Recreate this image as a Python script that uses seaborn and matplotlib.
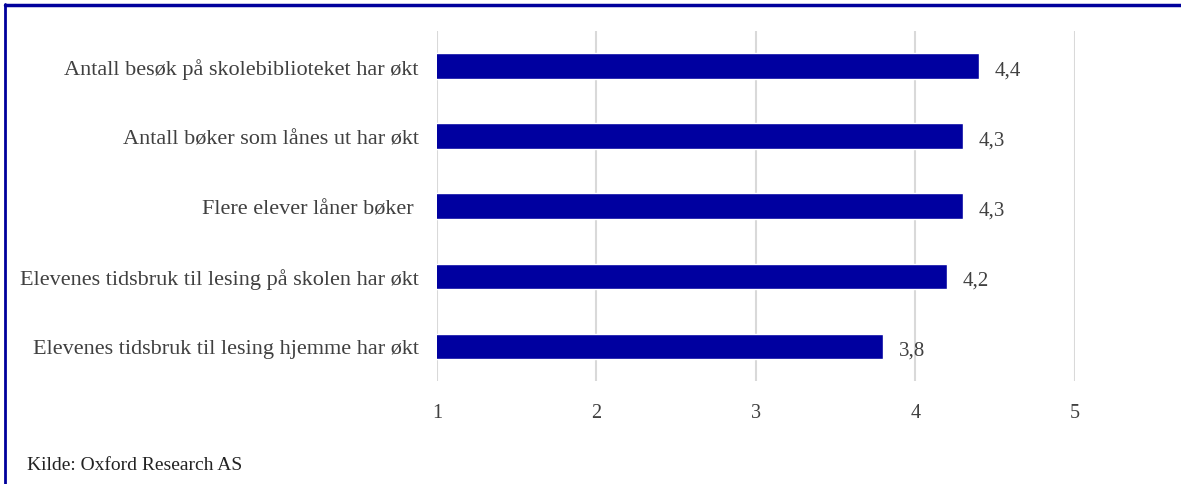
import matplotlib
matplotlib.use("Agg")
import matplotlib.pyplot as plt
import seaborn as sns
import pandas as pd

kategorier = [
    "Antall besøk på skolebiblioteket har økt",
    "Antall bøker som lånes ut har økt",
    "Flere elever låner bøker ",
    "Elevenes tidsbruk til lesing på skolen har økt",
    "Elevenes tidsbruk til lesing hjemme har økt",
]
verdier = [4.4, 4.3, 4.3, 4.2, 3.8]
xticks = [1, 2, 3, 4, 5]

df = pd.DataFrame({"kategori": kategorier, "verdi": verdier})

sns.set_style("white")
plt.rcParams["font.family"] = ["Liberation Serif", "DejaVu Serif"]
tekstfarge = "#404040"
blaa = "#0000A0"

fig = plt.figure(figsize=(11.81, 4.85), dpi=100)
ax = fig.add_axes([0.370, 0.212, 0.540, 0.722])

sns.barplot(data=df, y="kategori", x="verdi", orient="h", color=blaa,
            width=0.36, saturation=1, ax=ax)

ax.set_xlim(1, 5)
ax.set_ylim(4.5, -0.5)
ax.set_xticks(xticks)
ax.set_xticklabels([str(t) for t in xticks])
ax.grid(axis="x", color="#d9d9d9", linewidth=1.5)
ax.set_axisbelow(True)
for s in ax.spines.values():
    s.set_visible(False)
ax.tick_params(axis="both", length=0, colors=tekstfarge)
ax.tick_params(axis="y", pad=13, labelsize=16)
ax.tick_params(axis="x", pad=16, labelsize=14.5)
ax.set_xlabel("")
ax.set_ylabel("")

for i, v in enumerate(verdier):
    ax.annotate(f"{v:.1f}".replace(".", ","), (v, i), xytext=(11, -3),
                textcoords="offset points", va="center", ha="left",
                fontsize=15, color=tekstfarge)

# ramme rundt figuren (venstre og topp)
fig.add_artist(plt.Line2D([0.0045, 0.0045], [0, 0.99], color="#00009C",
                          linewidth=2, transform=fig.transFigure))
fig.add_artist(plt.Line2D([0.0045, 1.0], [0.988, 0.988], color="#00009C",
                          linewidth=2.5, transform=fig.transFigure))

fig.text(27 / 1181, 1 - 466 / 485, "Kilde: Oxford Research AS", fontsize=14,
         color="#222222", va="center", ha="left")

fig.savefig("out.png", dpi=100)
